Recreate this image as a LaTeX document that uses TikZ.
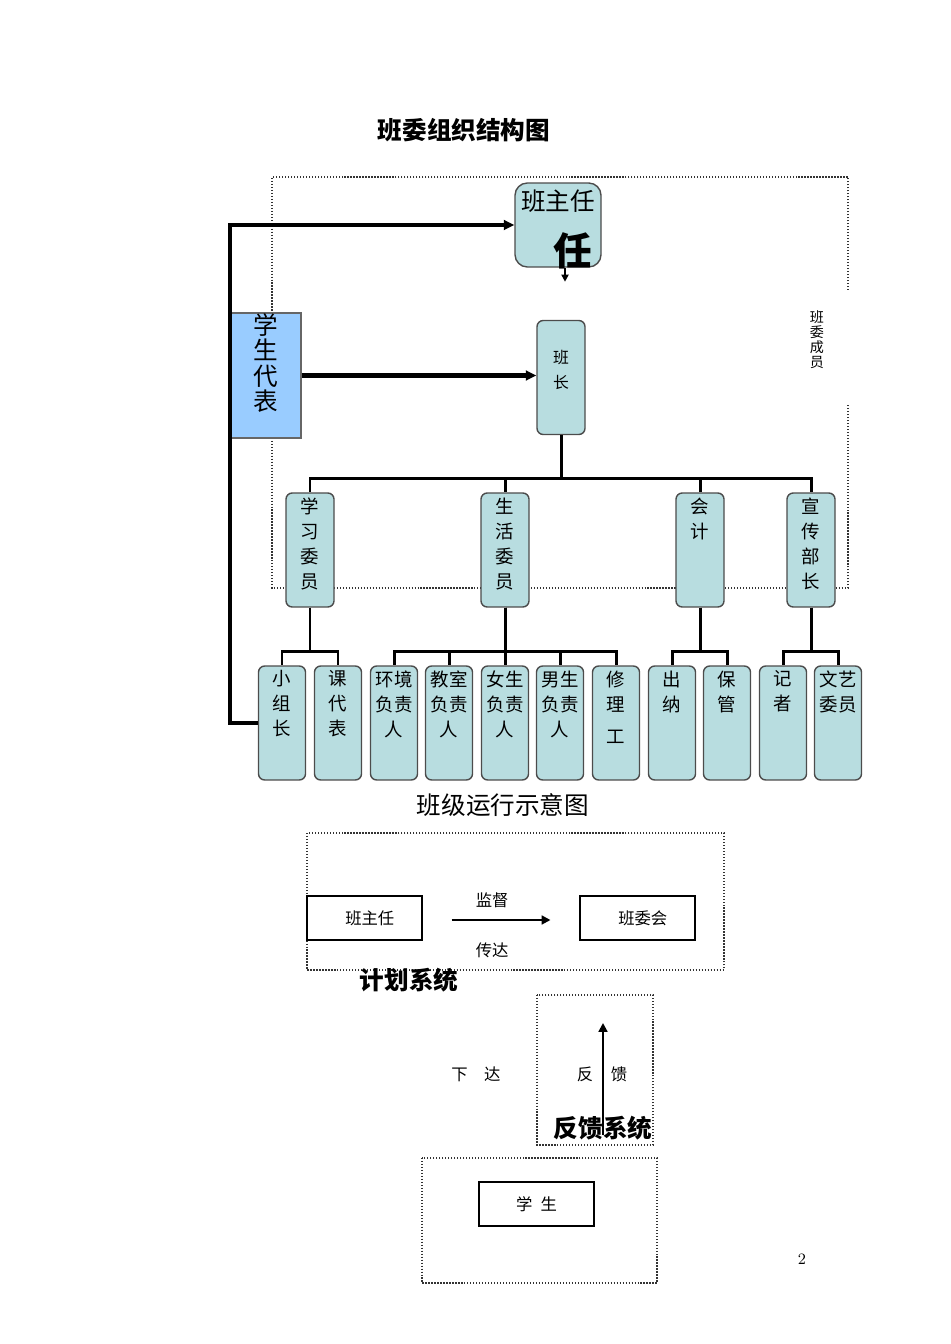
\documentclass[tikz,border=0pt]{standalone}
\usepackage{fontspec}
\newfontfamily\cjk{Noto Sans CJK SC}
\usetikzlibrary{positioning, arrows.meta, calc}
\definecolor{boxteal}{HTML}{B8DDE0}
\definecolor{repblue}{HTML}{99CCFF}
\begin{document}
\begin{tikzpicture}[x=0.02cm, y=-0.02cm, >={Triangle[length=6pt, width=5.5pt]},
		frame/.style={densely dotted, draw=black!80, line width=0.7pt},
		member/.style={draw=black!70, fill=boxteal, rounded corners=3.5pt, line width=0.8pt, minimum width=0.96cm, minimum height=2.28cm, inner sep=0pt},
		lbl/.style={anchor=north, inner sep=0pt, align=center, font=\cjk\fontsize{10.5}{14.2}\selectfont},
		conn/.style={line width=1.7pt},
		bigline/.style={line width=2.3pt},
		flat/.style={draw, line width=0.6pt, minimum width=2.3cm, minimum height=0.88cm, font=\cjk\fontsize{9.3}{11}\selectfont},
		plain/.style={font=\cjk\fontsize{9.3}{11}\selectfont, inner sep=0pt},
		brush/.style={font=\cjk\bfseries\fontsize{14}{16}\selectfont, inner sep=0pt}]
			\useasboundingbox (0,0) rectangle (950,1344);
			\node (title) [font=\cjk\bfseries\fontsize{14}{16}\selectfont] at (464,130) {班委组织结构图};
			\draw[frame] (848,290) -- (848,177) -- (272,177) -- (272,588) -- (848,588) -- (848,404);
			\node (bwcy) [align=center, inner sep=0pt, font=\cjk\fontsize{8}{8.6}\selectfont] at (817,340) {班\\委\\成\\员};
			\node (bzr) [member, minimum width=1.72cm, minimum height=1.68cm, rounded corners=7pt, label={[lbl, font=\cjk\fontsize{14}{16}\selectfont, yshift=-0.14cm]north:班主任}] at (558,225) {};
			\node (ren) [inner sep=0pt, font=\cjk\bfseries\fontsize{22}{24}\selectfont] at (573,251) {任};
			\draw[->, line width=1pt, >={Triangle[length=4pt, width=4pt]}] (bzr.south) ++(7,0) -- ++(0,14);
			\node (bz) [member, label={[lbl, font=\cjk\fontsize{9}{14.2}\selectfont, yshift=-0.6cm]north:{班\\长}}] at (561,377.5) {};
			\node (xsdb) [draw=black!60, fill=repblue, line width=0.8pt, minimum width=1.42cm, minimum height=2.5cm, inner sep=0pt, label={[lbl, font=\cjk\fontsize{14}{14.4}\selectfont, yshift=-0.02cm]north:{学\\生\\代\\表}}] at (265.5,375.5) {};
			\node (xxwy) [member, label={[lbl, yshift=-0.1cm]north:{学\\习\\委\\员}}] at (310,550) {};
			\node (shwy) [member, label={[lbl, yshift=-0.1cm]north:{生\\活\\委\\员}}] at (505,550) {};
			\node (kj) [member, label={[lbl, yshift=-0.1cm]north:{会\\计}}] at (700,550) {};
			\node (xcbz) [member, label={[lbl, yshift=-0.1cm]north:{宣\\传\\部\\长}}] at (811,550) {};
			\foreach \x/\n/\t in {282/xzz/{小\\组\\长}, 338/kdb/{课\\代\\表}, 394/hj/{环境\\负责\\人}, 449/js/{教室\\负责\\人}, 505/ns/{女生\\负责\\人}, 560/nans/{男生\\负责\\人}, 616/xlg/{修\\理\\[4pt]工}, 672/cn/{出\\纳}, 727/bg/{保\\管}, 783/jz/{记\\者}, 838/wy/{文艺\\委员}}
				\node (\n) [member, minimum width=0.94cm, label={[lbl, yshift=-0.1cm]north:\t}] at (\x,723) {};
			\foreach \c in {xxwy, shwy, kj, xcbz}
				\draw[conn] (bz.south) -- ++(0,43) -| (\c.north);
			\foreach \c in {xzz, kdb}
				\draw[conn] (xxwy.south) -- ++(0,44) -| (\c.north);
			\foreach \c in {hj, js, ns, nans, xlg}
				\draw[conn] (shwy.south) -- ++(0,44) -| (\c.north);
			\foreach \c in {cn, bg}
				\draw[conn] (kj.south) -- ++(0,44) -| (\c.north);
			\foreach \c in {jz, wy}
				\draw[conn] (xcbz.south) -- ++(0,44) -| (\c.north);
			\coordinate (lt) at (230,225);
			\draw[bigline, ->] (xzz.west) -| (lt) -- (bzr.west);
			\draw[bigline, ->] (xsdb.east) -- (xsdb.east -| bz.west);
			\node (title2) [font=\cjk\fontsize{14}{16}\selectfont] at (503,805) {班级运行示意图};
			\draw[frame] (307,833) rectangle (724,970);
			\node (bzr2) [flat] at (364.5,918) {\hspace{6pt}班主任};
			\node (bwh) [flat] at (637.5,918) {\hspace{6pt}班委会};
			\draw[->, line width=1.2pt, >={Triangle[length=5pt, width=5pt]}] ($(bzr2.east)+(29,2)$) -- node[plain, pos=0.41, above=6.5pt] {监督} node[plain, pos=0.41, below=12.5pt] {传达} ($(bwh.west)+(-29,2)$);
			\node (jhxt) [brush] at (409,980) {计划系统};
			\draw[frame] (537,995) rectangle (653,1145);
			\coordinate (fbs) at (603,1135);
			\coordinate (fbe) at (603,1023);
			\draw[->, line width=1.2pt, >={Triangle[length=5pt, width=5pt]}] (fbs) -- (fbe);
			\node (xd) [plain] at (476,1074) {下\quad 达};
			\node (fan) [plain] at (585,1074) {反};
			\node (kui) [plain] at (619,1074) {馈};
			\node (fkxt) [brush] at (603,1128) {反馈系统};
			\draw[frame] (422,1158) rectangle (657,1283);
			\node (xs) [flat] at (536.5,1204) {学\enspace 生};
			\node (pg) [font=\fontsize{9}{10}\selectfont] at (802,1259) {2};
		\end{tikzpicture}
\end{document}
